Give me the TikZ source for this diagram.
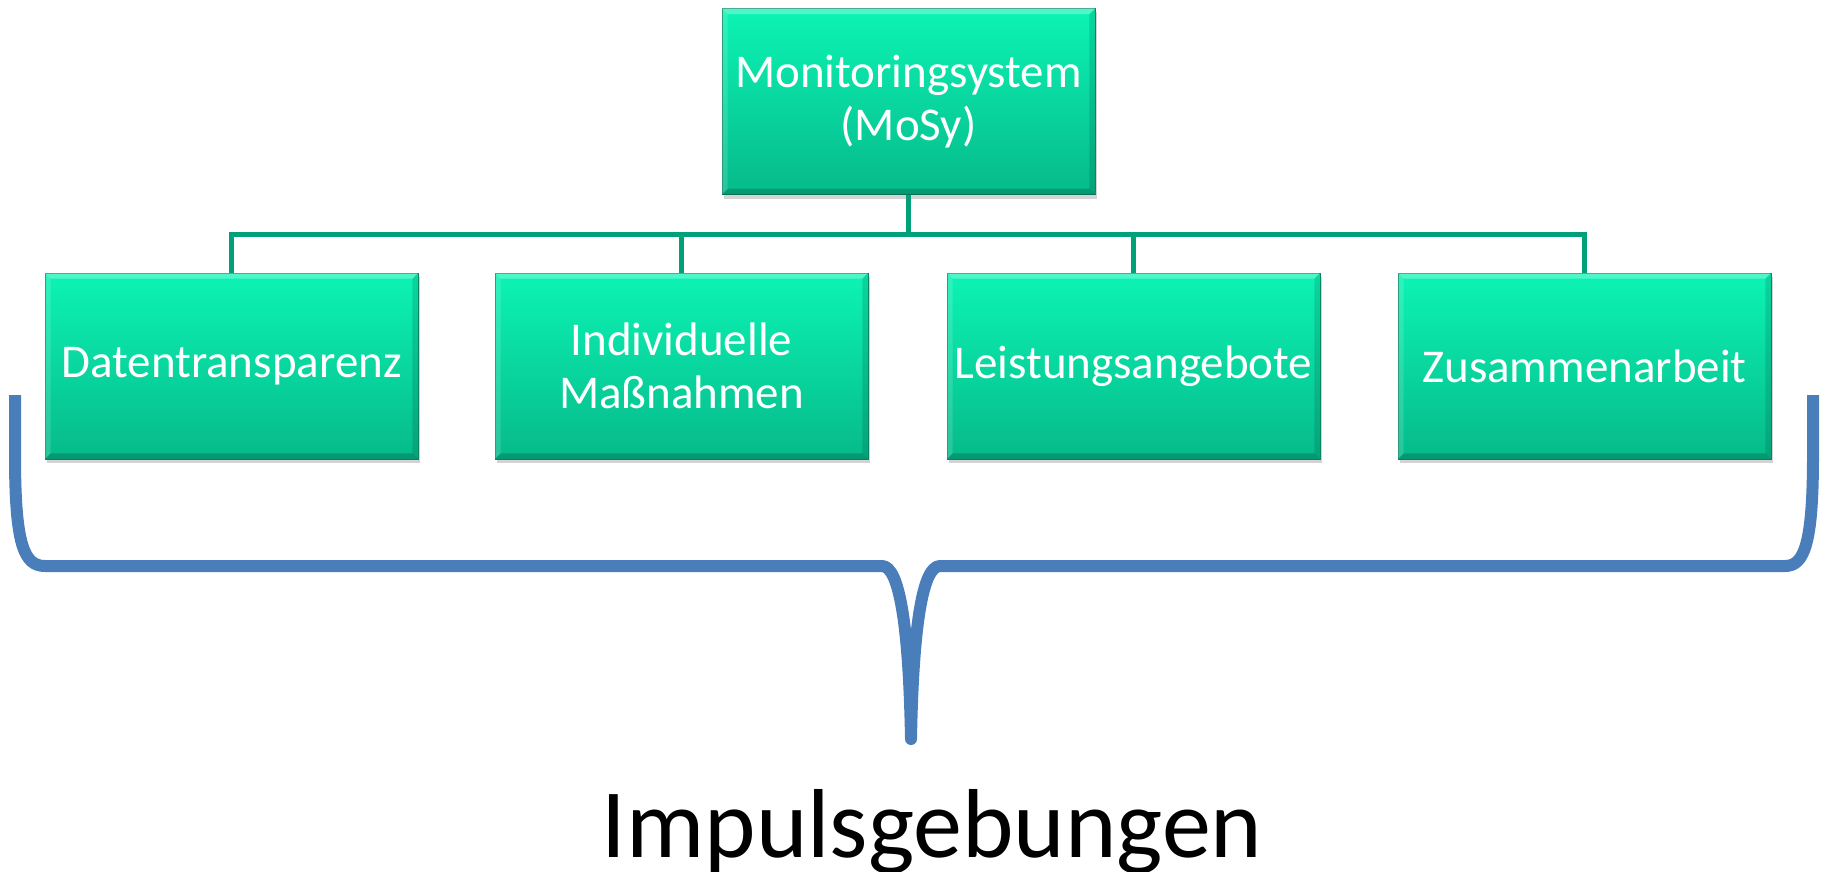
\documentclass[tikz,border=0pt]{standalone}
\usepackage{fontspec}
\setmainfont{Carlito}
\usetikzlibrary{shadows,calc}
\definecolor{boxtop}{RGB}{12,244,180}
\definecolor{boxbot}{RGB}{6,186,138}
\definecolor{boxedge}{RGB}{10,140,105}
\definecolor{conn}{RGB}{0,160,120}
\definecolor{bracecol}{RGB}{74,126,187}
\tikzset{
  orgbox/.style={rectangle, minimum width=373pt, minimum height=186pt,
    top color=boxtop, bottom color=boxbot, draw=boxedge, line width=0.8pt,
    drop shadow={shadow xshift=2pt, shadow yshift=-4pt, opacity=0.35},
    text=white, align=center, inner sep=0pt,
    font=\fontsize{47}{53}\selectfont},
  connline/.style={draw=conn, line width=5pt},
  bracestyle/.style={draw=bracecol, line width=12pt, line join=round, line cap=butt},
  bevlight/.style={fill=white, opacity=0.28},
  bevsoft/.style={fill=white, opacity=0.14},
  bevdark/.style={fill=black, opacity=0.18},
  bevdarker/.style={fill=black, opacity=0.12}
}
\newcommand\bevelbox[1]{%
  \fill[bevlight] (#1.north west) -- (#1.north east) -- ($(#1.north east)+(-6,6)$) -- ($(#1.north west)+(6,6)$) -- cycle;
  \fill[bevsoft] (#1.north west) -- ($(#1.north west)+(6,6)$) -- ($(#1.south west)+(6,-6)$) -- (#1.south west) -- cycle;
  \fill[bevdark] (#1.south west) -- ($(#1.south west)+(6,-6)$) -- ($(#1.south east)+(-6,-6)$) -- (#1.south east) -- cycle;
  \fill[bevdarker] (#1.north east) -- (#1.south east) -- ($(#1.south east)+(-6,-6)$) -- ($(#1.north east)+(-6,6)$) -- cycle;
}
\begin{document}
\begin{tikzpicture}[x=1pt,y=-1pt]
\useasboundingbox (0,0) rectangle (1823,872);
\coordinate (bus) at (908.5,234);
\node[orgbox] (top) at (908.5,101.5) {Monitoringsystem\\(MoSy)};
\node[orgbox] (b1) at (231.5,366) {Datentransparenz};
\node[orgbox] (b2) at (681.5,366) {Individuelle\\Maßnahmen};
\node[orgbox] (b3) at (1133.5,366) {Leistungsangebote};
\node[orgbox] (b4) at (1584.5,366) {Zusammenarbeit};
\bevelbox{top}
\bevelbox{b1}
\bevelbox{b2}
\bevelbox{b3}
\bevelbox{b4}
\draw[connline] (top.south) -- (bus);
\draw[connline] (b1.north) |- (bus) -| (b4.north);
\draw[connline] (b2.north) -- (b2.north |- bus);
\draw[connline] (b3.north) -- (b3.north |- bus);
% brace
\coordinate (bl) at (15,395);
\coordinate (br) at (1813,395);
\coordinate (tip) at (911,739);
\draw[bracestyle] (bl) -- (15,455) .. controls (15,545) and (24,566) .. (45,566)
  -- (882,566) .. controls (900,566) and (909,630) .. (tip)
  .. controls (913,630) and (922,566) .. (940,566)
  -- (1785,566) .. controls (1804,566) and (1813,545) .. (1813,455) -- (br);
\node[anchor=base, font=\fontsize{98}{110}\selectfont, text=black] (lbl) at (932,857) {Impulsgebungen};
\end{tikzpicture}
\end{document}
